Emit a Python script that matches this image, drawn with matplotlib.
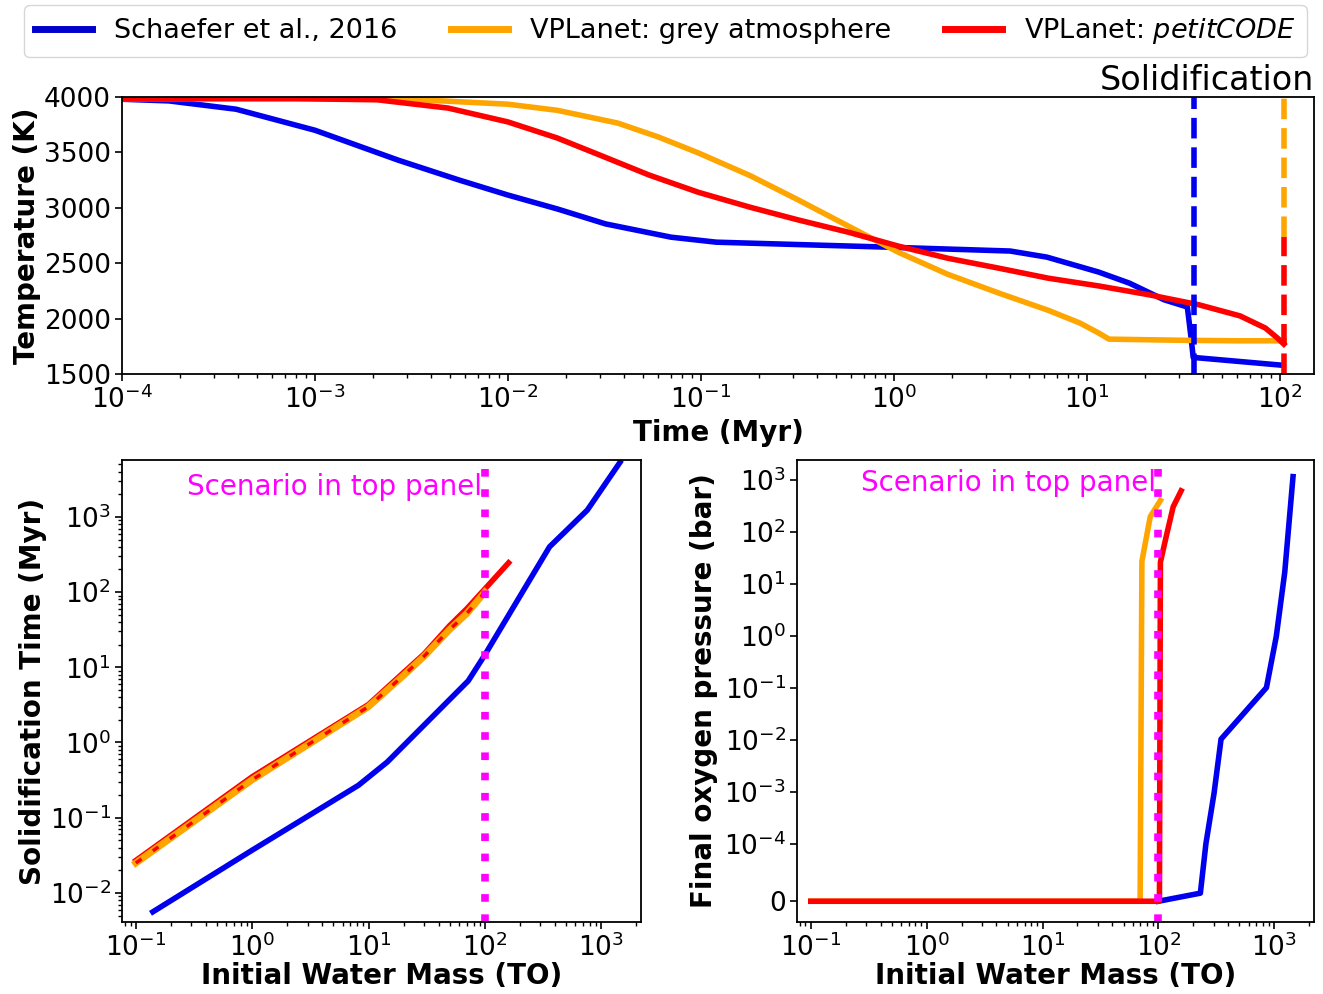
import numpy as np
import matplotlib
matplotlib.use('Agg')
import matplotlib.pyplot as plt
from matplotlib.ticker import NullLocator

# top panel: temperature evolution (time in Myr, temperature in K)
t_schaefer = [1e-4, 1.75e-4, 3.9e-4, 1.0e-3, 2.7e-3, 5.6e-3, 1.0e-2, 1.8e-2, 3.2e-2, 7.0e-2, 0.12, 0.93, 4.0, 6.2, 11.5, 16.6, 25.1, 33.1, 34.7, 35.5, 102.0]
T_schaefer = [3980, 3965, 3890, 3700, 3430, 3250, 3115, 2990, 2855, 2735, 2690, 2645, 2610, 2555, 2420, 2320, 2170, 2105, 1810, 1650, 1580]

t_grey = [1e-4, 1e-3, 2.7e-3, 1.0e-2, 1.8e-2, 3.7e-2, 6.0e-2, 9.7e-2, 0.18, 0.32, 0.58, 1.05, 1.9, 3.5, 6.3, 9.2, 11.5, 13.0, 30.0, 60.0, 104.7]
T_grey = [3985, 3985, 3985, 3935, 3880, 3765, 3640, 3495, 3290, 3070, 2835, 2600, 2400, 2230, 2075, 1960, 1870, 1815, 1805, 1800, 1800]

t_petit = [1e-4, 8e-4, 2.1e-3, 4.9e-3, 1.0e-2, 1.8e-2, 3.0e-2, 5.4e-2, 9.7e-2, 0.18, 0.32, 0.58, 1.05, 1.9, 3.5, 6.3, 11.5, 21.0, 38.0, 62.0, 84.0, 97.0, 104.7]
T_petit = [3985, 3985, 3975, 3900, 3775, 3630, 3475, 3295, 3140, 3005, 2890, 2780, 2655, 2545, 2455, 2365, 2295, 2215, 2125, 2025, 1915, 1825, 1770]

t_solid_schaefer = 35.8
t_solid_grey = 104.7
t_solid_petit = 104.7

# bottom left: solidification time (Myr) vs initial water mass (TO)
w_schaefer = [0.14, 1.0, 8.2, 14.5, 72, 100, 360, 760, 1450]
ts_schaefer = [0.0056, 0.037, 0.27, 0.55, 6.6, 14.6, 400, 1230, 5300]

w_grey = [0.1, 1.0, 10, 20, 30, 50, 70, 100]
ts_grey = [0.025, 0.32, 3.0, 7.8, 14, 32, 52, 100]

w_petit = [0.1, 1.0, 10, 20, 30, 50, 70, 100, 160]
ts_petit = [0.027, 0.35, 3.2, 8.5, 15, 36, 60, 110, 245]

# bottom right: final oxygen pressure (bar) vs initial water mass (TO)
w_ox_schaefer = [100, 230, 257, 302, 347, 855, 1040, 1230, 1450]
p_ox_schaefer = [0, 1.4e-5, 1e-4, 9.3e-4, 0.0102, 0.1, 0.97, 16.6, 1150]

w_ox_grey = [0.1, 1.0, 10, 69, 69.5, 72, 85, 104]
p_ox_grey = [0, 0, 0, 0, 1e-6, 27, 195, 400]

w_ox_petit = [0.1, 1.0, 10, 100, 102, 104, 117, 134, 157]
p_ox_petit = [0, 0, 0, 0, 1e-6, 26, 83, 302, 613]

scenario = 100

blue = '#0000ee'
orange = 'orange'
red = 'red'
lw = 4

plt.rcParams['font.size'] = 19
plt.rcParams['axes.linewidth'] = 1.3

fig = plt.figure(figsize=(13.23, 9.94), dpi=100)
ax1 = fig.add_axes([0.0922, 0.6237, 0.901, 0.2787])
ax2 = fig.add_axes([0.0922, 0.0724, 0.3923, 0.4648])
ax3 = fig.add_axes([0.6024, 0.0724, 0.3908, 0.4648])

# top panel
l1, = ax1.plot(t_schaefer, T_schaefer, color=blue, lw=lw, label='Schaefer et al., 2016')
l2, = ax1.plot(t_grey, T_grey, color=orange, lw=lw, label='VPLanet: grey atmosphere')
l3, = ax1.plot(t_petit, T_petit, color=red, lw=lw, label='VPLanet: $\\it{petitCODE}$')
ax1.plot([t_solid_schaefer] * 2, [1500, 4000], color=blue, lw=lw, ls='--', clip_on=False)
ax1.plot([t_solid_grey] * 2, [2740, 4000], color=orange, lw=lw, ls='--', clip_on=False)
ax1.plot([t_solid_petit] * 2, [1500, 2740], color=red, lw=lw, ls='--')
ax1.set_xscale('log')
ax1.set_xlim(1e-4, 150)
ax1.set_ylim(1500, 4000)
ax1.set_xlabel('Time (Myr)', fontweight='bold', fontsize=20, labelpad=4)
ax1.set_ylabel('Temperature (K)', fontweight='bold', fontsize=20, labelpad=2)
ax1.set_title('Solidification', loc='right', fontsize=24, pad=2)

# bottom left
ax2.plot(w_schaefer, ts_schaefer, color=blue, lw=lw)
ax2.plot(w_petit, ts_petit, color=red, lw=lw)
ax2.plot(w_grey, ts_grey, color=orange, lw=lw + 1)
ax2.plot(w_grey, ts_grey, color=red, lw=2.5, ls=(0, (2, 4)))
ax2.axvline(scenario, color='magenta', lw=5.5, ls=':')
ax2.text(scenario * 0.95, 2500, 'Scenario in top panel', color='magenta', fontsize=20, ha='right', va='center')
ax2.set_xscale('log')
ax2.set_yscale('log')
ax2.set_xlim(0.076, 2200)
ax2.set_ylim(0.0041, 5700)
ax2.set_xlabel('Initial Water Mass (TO)', fontweight='bold', fontsize=20, labelpad=0)
ax2.set_ylabel('Solidification Time (Myr)', fontweight='bold', fontsize=20, labelpad=2)

# bottom right
ax3.plot(w_ox_schaefer, p_ox_schaefer, color=blue, lw=lw)
ax3.plot(w_ox_grey, p_ox_grey, color=orange, lw=lw)
ax3.plot(w_ox_petit, p_ox_petit, color=red, lw=lw)
ax3.axvline(scenario, color='magenta', lw=5.5, ls=':')
ax3.text(scenario * 0.95, 850, 'Scenario in top panel', color='magenta', fontsize=20, ha='right', va='center')
ax3.set_xscale('log')
ax3.set_yscale('symlog', linthresh=1e-4)
ax3.set_yticks([0, 1e-4, 1e-3, 1e-2, 1e-1, 1, 10, 100, 1000])
ax3.yaxis.set_minor_locator(NullLocator())
ax3.set_xlim(0.076, 2200)
ax3.set_ylim(-3.6e-5, 2400)
ax3.set_xlabel('Initial Water Mass (TO)', fontweight='bold', fontsize=20, labelpad=0)
ax3.set_ylabel('Final oxygen pressure (bar)', fontweight='bold', fontsize=20)

for ax in (ax1, ax2, ax3):
    ax.tick_params(which='major', length=5, width=1.2, pad=3)
    ax.tick_params(which='minor', length=3, width=1)

fig.legend(handles=[l1, l2, l3], loc='upper center', bbox_to_anchor=(0.503, 1.0),
           ncol=3, fontsize=19.5, handlelength=2.1, columnspacing=2.0, borderaxespad=0.2)
for h in fig.legends[0].get_lines():
    h.set_linewidth(5)
    if h.get_color() == blue:
        h.set_color('#0000cc')

fig.savefig('out.png', dpi=100)
